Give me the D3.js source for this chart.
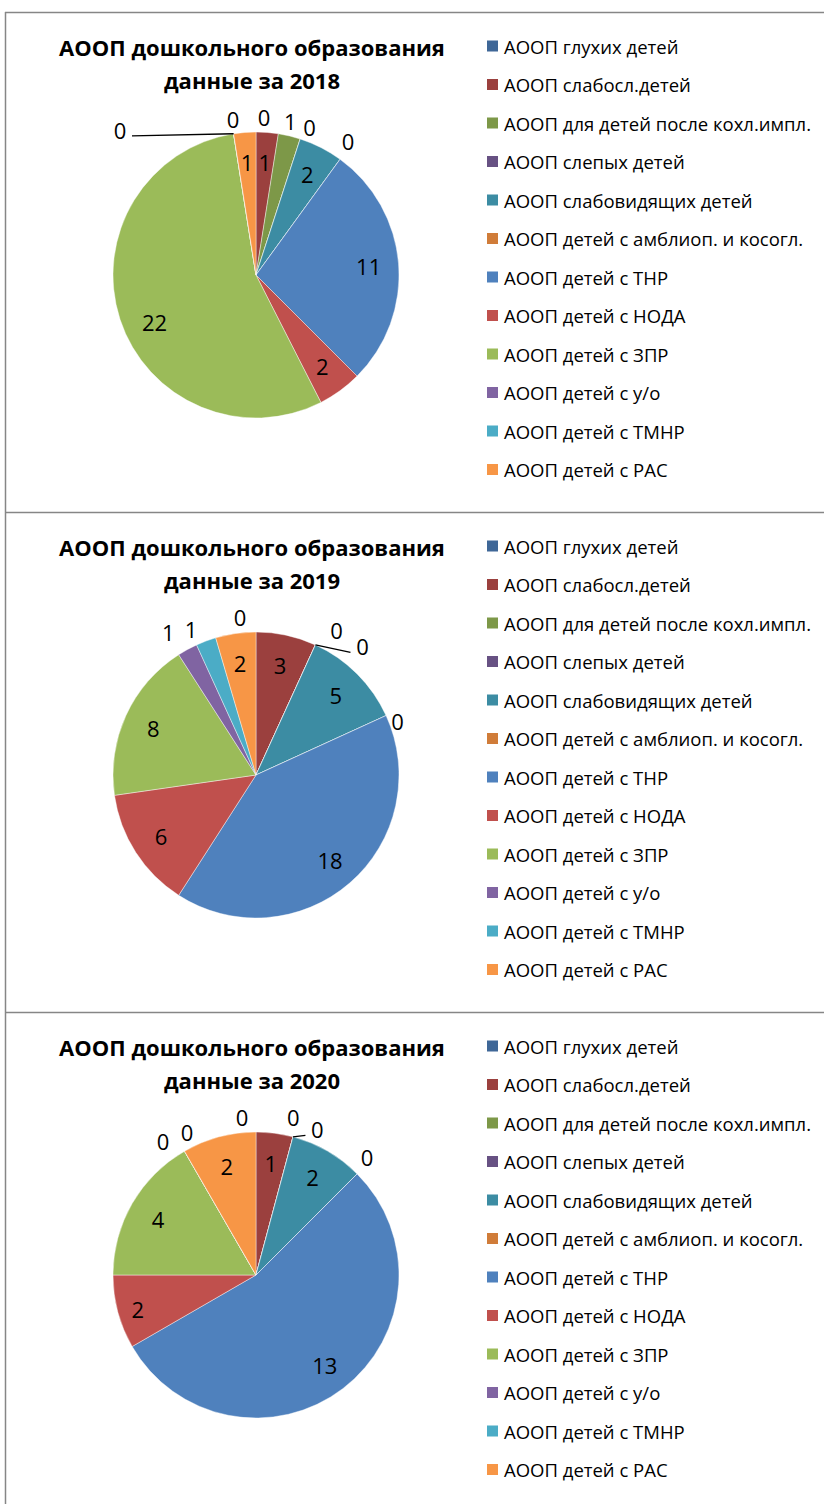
<!DOCTYPE html>
<html>
<head>
<meta charset="utf-8">
<script src="https://cdn.jsdelivr.net/npm/d3@7"></script>
<style>
body{margin:0;background:#fff;}
svg text{font-family:"Open Sans","Noto Sans",sans-serif;fill:#000;}
</style>
</head>
<body>
<svg class="chart" width="824" height="1504"></svg>
<script>
var categories = ["АООП глухих детей","АООП слабосл.детей","АООП для детей после кохл.импл.",
  "АООП слепых детей","АООП слабовидящих детей","АООП детей с амблиоп. и косогл.",
  "АООП детей с ТНР","АООП детей с НОДА","АООП детей с ЗПР","АООП детей с у/о",
  "АООП детей с ТМНР","АООП детей с РАС"];
var years = ["2018","2019","2020"];
var values2018 = [0,1,1,0,2,0,11,2,22,0,0,1];
var values2019 = [0,3,0,0,5,0,18,6,8,1,1,2];
var values2020 = [0,1,0,0,2,0,13,2,4,0,0,2];
var colors = ["#3f6797","#9b403e","#7d9848","#675183","#3c8ca3","#d07c39",
  "#4f81bd","#c0504d","#9bbb59","#8064a2","#4bacc6","#f79646"];

// label placement tweaks (Excel "best fit" quirks)
var outsideExtra = {"2018":[2], "2019":[9,10], "2020":[]};
var leaderFor = {"2018":[9], "2019":[3], "2020":[3]};
var nudge = {
  "2018": {0:[8,2],2:[-3,2],3:[4,4],5:[-2,-5],9:[-111,13],10:[2,2],8:[6,12]},
  "2019": {0:[-16,2],2:[14,1],3:[40,17],5:[-4,12],9:[-11,-3],10:[-9,4]},
  "2020": {0:[-14,2],2:[-4,-3],3:[20,9],5:[-2,-5],9:[-13,5],10:[11,-4],7:[-9,5]}
};
var seriesByYear = {"2018":values2018,"2019":values2019,"2020":values2020};

var svg = d3.select("svg.chart");
var panelH = 500, top0 = 12;
var cx = 256, cy = 263, r = 143;

var pie = d3.pie().sort(null).value(function(d){return d;});
var arc = d3.arc().innerRadius(0).outerRadius(r);
var legendY = d3.scaleLinear().domain([0,11]).range([34,34+11*38.5]);

// frame
svg.append("line").attr("x1",5.5).attr("x2",5.5).attr("y1",top0).attr("y2",1504)
  .attr("stroke","#868686").attr("stroke-width",1.5);
years.forEach(function(y,i){
  svg.append("line").attr("x1",5).attr("x2",824)
    .attr("y1",top0+i*panelH+0.5).attr("y2",top0+i*panelH+0.5)
    .attr("stroke","#868686").attr("stroke-width",1.5);
});

years.forEach(function(year,pi){
  var g = svg.append("g").attr("transform","translate(0,"+(top0+pi*panelH)+")");
  var vals = seriesByYear[year];

  g.append("text").attr("x",252).attr("y",35).attr("text-anchor","middle")
    .attr("dominant-baseline","central").style("font-weight","bold").style("font-size","22px")
    .text("АООП дошкольного образования");
  g.append("text").attr("x",252).attr("y",68).attr("text-anchor","middle")
    .attr("dominant-baseline","central").style("font-weight","bold").style("font-size","22px")
    .text("данные за " + year);

  var pg = g.append("g").attr("transform","translate("+cx+","+cy+")");
  var arcs = pie(vals);
  pg.selectAll("path").data(arcs).enter().append("path")
    .attr("d",arc)
    .attr("fill",function(d,i){return colors[i];})
    .attr("stroke","#fff").attr("stroke-width",0.6).attr("stroke-opacity",0.7);

  arcs.forEach(function(d,i){
    var a = (d.startAngle+d.endAngle)/2;
    var out = d.value===0 || outsideExtra[year].indexOf(i)>=0;
    var rr = out ? 160 : 113;
    var lx = Math.sin(a)*rr, ly = -Math.cos(a)*rr;
    var n = nudge[year][i];
    if(n){lx += n[0]; ly += n[1];}
    if(leaderFor[year].indexOf(i)>=0){
      var ex = Math.sin(a)*r, ey = -Math.cos(a)*r;
      var side = lx > ex ? -1 : 1;
      pg.append("polyline")
        .attr("points",[[ex,ey],[lx+side*12,ly+6]].map(function(p){return p.join(",");}).join(" "))
        .attr("fill","none").attr("stroke","#000").attr("stroke-width",1.3);
    }
    pg.append("text").attr("x",lx).attr("y",ly)
      .attr("text-anchor","middle").attr("dominant-baseline","central")
      .style("font-size","22px").text(d.value);
  });

  var lg = g.selectAll("g.leg").data(categories).enter().append("g")
    .attr("transform",function(d,i){return "translate(487,"+legendY(i)+")";});
  lg.append("rect").attr("x",0).attr("y",-5.5).attr("width",11).attr("height",11)
    .attr("fill",function(d,i){return colors[i];});
  lg.append("text").attr("x",17).attr("y",0).attr("dominant-baseline","central")
    .style("font-size","18.5px").text(function(d){return d;});
});
</script>
</body>
</html>
